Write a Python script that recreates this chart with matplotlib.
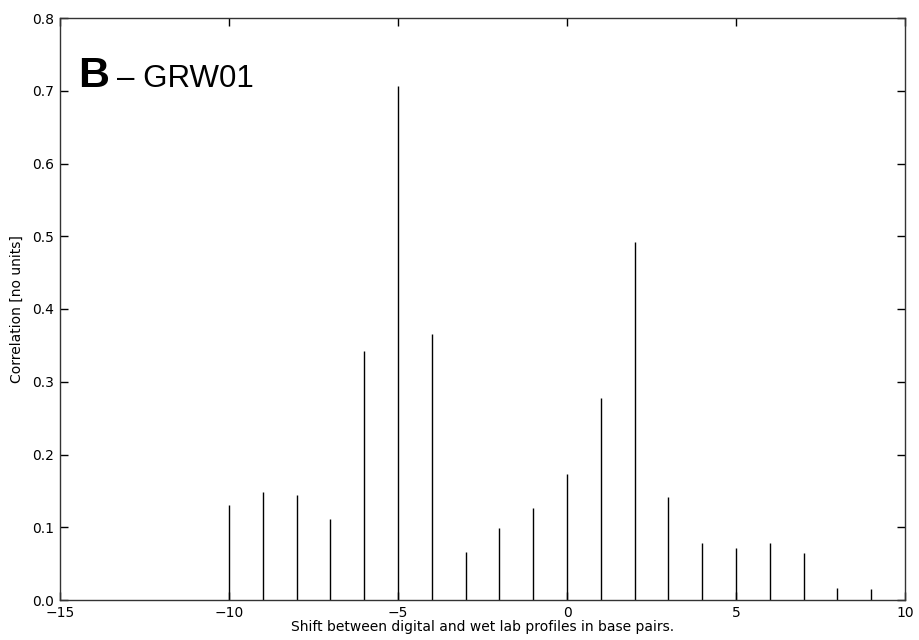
import matplotlib
matplotlib.use("Agg")
import matplotlib.pyplot as plt

shifts = [-10, -9, -8, -7, -6, -5, -4, -3, -2, -1, 0, 1, 2, 3, 4, 5, 6, 7, 8, 9]
correlation = [0.130, 0.148, 0.145, 0.112, 0.342, 0.707, 0.365, 0.066, 0.099, 0.127,
               0.173, 0.278, 0.492, 0.141, 0.078, 0.071, 0.079, 0.064, 0.017, 0.015]
xticks = [-15, -10, -5, 0, 5, 10]
yticks = [0.0, 0.1, 0.2, 0.3, 0.4, 0.5, 0.6, 0.7, 0.8]

fig = plt.figure(figsize=(9.19, 6.4), dpi=100)
ax = fig.add_axes([60/919, 1 - 600/640, (905-60)/919, (600-18)/640])
ax.vlines(shifts, 0, correlation, colors="black", linewidth=1.0)
ax.set_xlim(-15, 10)
ax.set_ylim(0, 0.8)
ax.set_xticks(xticks)
ax.set_yticks(yticks)
ax.set_xticklabels([("\u2212" + str(abs(t))) if t < 0 else str(t) for t in xticks])
ax.set_yticklabels(["%.1f" % t for t in yticks])
ax.tick_params(direction="in", top=True, right=True, length=6, width=1, labelsize=10)
ax.tick_params(axis="x", pad=4)
ax.tick_params(axis="y", pad=4)
for s in ax.spines.values():
    s.set_linewidth(1.0)
    s.set_color("#333333")
ax.set_xlabel("Shift between digital and wet lab profiles in base pairs.", fontsize=10, labelpad=0)
ax.set_ylabel("Correlation [no units]", fontsize=10, labelpad=6)
ax.text(0.021, 0.881, "B", transform=ax.transAxes, fontsize=31, fontweight="bold",
        family="Liberation Sans", va="baseline")
ax.text(0.068, 0.881, "\u2013 GRW01", transform=ax.transAxes, fontsize=22.5,
        family="Liberation Sans", va="baseline")
fig.savefig("out.png", dpi=100)
